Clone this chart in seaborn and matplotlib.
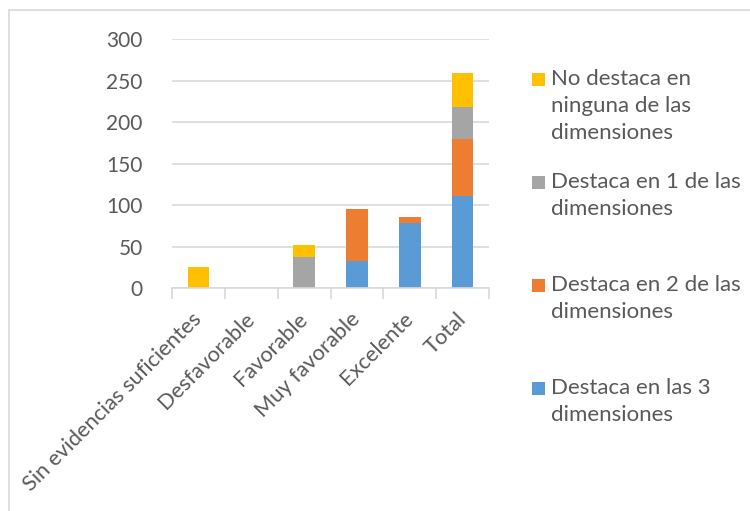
import matplotlib
matplotlib.use("Agg")
import matplotlib.pyplot as plt
import matplotlib.transforms as mtransforms
import seaborn as sns
import numpy as np
from matplotlib.lines import Line2D
from matplotlib.patches import Rectangle

categories = ["Sin evidencias suficientes", "Desfavorable", "Favorable",
              "Muy favorable", "Excelente", "Total"]
destaca_3 = [0, 0, 0, 33, 78, 111]
destaca_2 = [0, 0, 0, 62, 7, 69]
destaca_1 = [0, 0, 37, 0, 0, 38]
no_destaca = [25, 0, 15, 0, 0, 41]
series_labels = ["Destaca en las 3\ndimensiones",
                 "Destaca en 2 de las\ndimensiones",
                 "Destaca en 1 de las\ndimensiones",
                 "No destaca en\nninguna de las\ndimensiones"]
y_ticks = [0, 50, 100, 150, 200, 250, 300]

colors = ["#5B9BD5", "#ED7D31", "#A5A5A5", "#FFC000"]
txt_color = "#595959"

sns.set_theme(style="white")
plt.rcParams["font.family"] = ["Lato", "DejaVu Sans"]

fig = plt.figure(figsize=(7.5, 5.11), dpi=100)
ax = fig.add_axes([172/750, 1-288/511, (489-172)/750, (288-39)/511])

series = [destaca_3, destaca_2, destaca_1, no_destaca]
bottom = np.zeros(len(categories))
for vals, col in zip(series, colors):
    sns.barplot(x=categories, y=vals, bottom=bottom, color=col, width=0.41,
                ax=ax, saturation=1, linewidth=0, zorder=3)
    bottom = bottom + np.array(vals)

ax.set_ylim(0, 300)
ax.set_xlim(-0.5, len(categories) - 0.5)
ax.set_yticks(y_ticks)
ax.set_yticklabels([str(t) for t in y_ticks], fontsize=15, color=txt_color)
ax.yaxis.grid(True, color="#D9D9D9", linewidth=1.2, zorder=0)
ax.tick_params(axis="y", length=0, pad=21)

ax.set_xticks(range(len(categories)))
ax.set_xticklabels(categories, rotation=45, ha="right", rotation_mode="anchor",
                   fontsize=15.7, color=txt_color)
ax.set_xticks(np.arange(-0.5, len(categories), 1), minor=True)
ax.tick_params(axis="x", which="major", length=0, pad=15)
ax.tick_params(axis="x", which="minor", length=8, width=1.2, color="#D9D9D9",
               direction="out", bottom=True)
offset = mtransforms.ScaledTranslation(-5/72, 0, fig.dpi_scale_trans)
for lbl in ax.get_xticklabels():
    lbl.set_transform(lbl.get_transform() + offset)
for s in ["top", "right", "left"]:
    ax.spines[s].set_visible(False)
ax.spines["bottom"].set_color("#D9D9D9")
ax.spines["bottom"].set_linewidth(1.2)
ax.spines["bottom"].set_zorder(4)
ax.set_xlabel("")
ax.set_ylabel("")

# Legend (manual, evenly distributed as in original)
legend_order = [3, 2, 1, 0]
y_centers = [80, 183, 286, 389]
for idx, yc in zip(legend_order, y_centers):
    fig.patches.append(Rectangle((532/750, 1-(yc+6)/511), 13/750, 13/511,
                                 transform=fig.transFigure, color=colors[idx],
                                 linewidth=0))
    fig.text(551/750, 1-(yc-11)/511, series_labels[idx], fontsize=16,
             color=txt_color, va="top", ha="left", linespacing=1.45,
             transform=fig.transFigure)

# frame
fig.add_artist(Line2D([9/750, 1], [1-10/511, 1-10/511], color="#D9D9D9",
                      linewidth=1.2, transform=fig.transFigure))
fig.add_artist(Line2D([9/750, 9/750], [0, 1-10/511], color="#D9D9D9",
                      linewidth=1.2, transform=fig.transFigure))

fig.savefig("out.png", dpi=100)
